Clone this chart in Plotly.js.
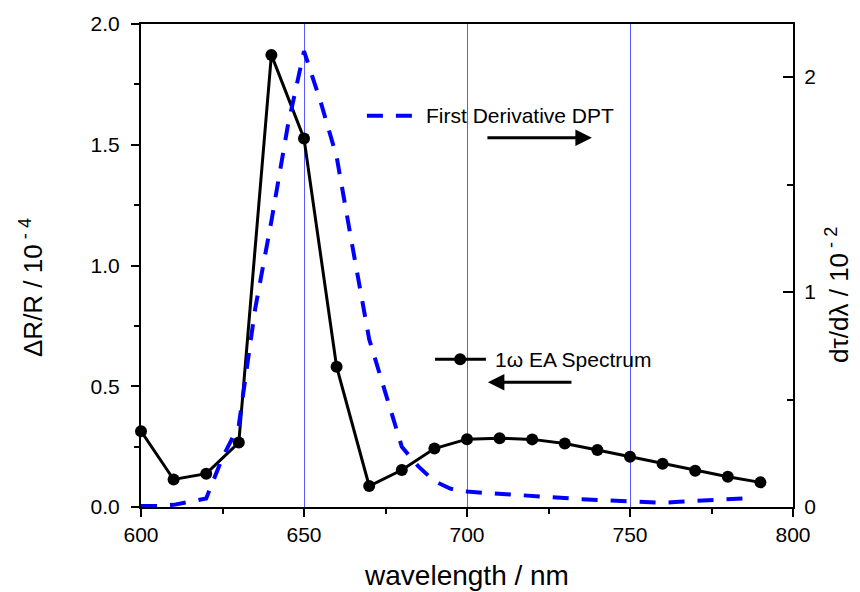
<!DOCTYPE html>
<html>
<head>
<meta charset="utf-8">
<script src="https://cdn.plot.ly/plotly-3.0.1.min.js"></script>
<style>html,body{margin:0;padding:0;background:#fff;}#chart{width:860px;height:592px;}</style>
</head>
<body>
<div id="chart"></div>
<script>
// 1ω EA spectrum (left axis, ΔR/R / 1e-4)
const wavelengthEA = [600,610,620,630,640,650,660,670,680,690,700,710,720,730,740,750,760,770,780,790];
const eaValues = [0.314,0.114,0.138,0.267,1.872,1.526,0.581,0.087,0.153,0.242,0.281,0.285,0.280,0.263,0.236,0.208,0.179,0.150,0.125,0.102];

// First derivative DPT (right axis, dτ/dλ / 1e-2)
const wavelengthDPT = [600,605,610,615,620,625,630,635,640,645,650,655,660,665,670,675,680,685,690,695,700,705,710,715,720,725,730,735,740,745,750,755,760,765,770,775,780,785];
const dptValues = [0.005,0.005,0.01,0.025,0.04,0.23,0.38,0.92,1.33,1.77,2.12,1.89,1.63,1.20,0.78,0.53,0.28,0.19,0.12,0.085,0.072,0.066,0.062,0.057,0.052,0.047,0.042,0.036,0.032,0.028,0.024,0.020,0.020,0.024,0.029,0.033,0.037,0.040];

const xTickVals = [600,650,700,750,800];
const yLeftTickVals = [0,0.5,1.0,1.5,2.0];
const yRightTickVals = [0,1,2];

const labelEA = '1\u03c9 EA Spectrum';
const labelDPT = 'First Derivative DPT';
const titleX = 'wavelength / nm';
const titleYLeft = '\u0394R/R / 10<sup> - 4</sup>';
const titleYRight = 'd\u03c4/d\u03bb / 10<sup> - 2</sup>';

const FONT = 'Arial, "Liberation Sans", sans-serif';

const traces = [
  {
    x: wavelengthDPT, y: dptValues, yaxis: 'y2', type: 'scatter', mode: 'lines',
    name: labelDPT, showlegend: false,
    line: {color: '#0000ff', width: 4, dash: '16px,13px'}
  },
  {
    x: wavelengthEA, y: eaValues, yaxis: 'y', type: 'scatter', mode: 'lines+markers',
    name: labelEA, showlegend: false, cliponaxis: false,
    line: {color: '#000000', width: 3},
    marker: {color: '#000000', size: 12, symbol: 'circle'}
  }
];

const layout = {
  width: 860, height: 592,
  margin: {l: 141, r: 67, t: 24, b: 85, pad: 0},
  paper_bgcolor: '#ffffff', plot_bgcolor: '#ffffff',
  font: {family: FONT, color: '#000000', size: 21},
  showlegend: false,
  xaxis: {
    range: [600, 800], tickvals: xTickVals, ticktext: xTickVals.map(String),
    showline: true, linecolor: '#000', linewidth: 2, mirror: true,
    ticks: 'outside', ticklen: 8, tickwidth: 2, tickcolor: '#000',
    minor: {dtick: 25, tick0: 600, ticks: 'outside', ticklen: 5, tickwidth: 2, tickcolor: '#000', showgrid: false},
    showgrid: true, gridcolor: 'rgba(60,60,255,0.85)', gridwidth: 1,
    zeroline: false,
    tickfont: {size: 21, family: FONT},
    title: {text: titleX, font: {size: 28, family: FONT}, standoff: 20}
  },
  yaxis: {
    range: [0, 2.0], tickvals: yLeftTickVals, ticktext: yLeftTickVals.map(v => v.toFixed(1)),
    showline: true, linecolor: '#000', linewidth: 2,
    ticks: 'outside', ticklen: 8, tickwidth: 2, tickcolor: '#000',
    minor: {dtick: 0.25, tick0: 0, ticks: 'outside', ticklen: 5, tickwidth: 2, tickcolor: '#000', showgrid: false},
    showgrid: false, zeroline: false,
    tickfont: {size: 21, family: FONT},
    ticklabelstandoff: 7
  },
  yaxis2: {
    overlaying: 'y', side: 'right',
    range: [0, 2.2465], tickvals: yRightTickVals, ticktext: yRightTickVals.map(String),
    showline: true, linecolor: '#000', linewidth: 2,
    ticks: 'inside', ticklen: 10, tickwidth: 2, tickcolor: '#000',
    minor: {dtick: 0.5, tick0: 0, ticks: 'inside', ticklen: 6, tickwidth: 2, tickcolor: '#000', showgrid: false},
    showgrid: false, zeroline: false,
    tickfont: {size: 21, family: FONT},
    ticklabelstandoff: 5
  },
  shapes: [
    // legend sample: dashed blue
    {type: 'line', xref: 'x', yref: 'y', x0: 669.3, x1: 683.6, y0: 1.62, y1: 1.62,
     line: {color: '#0000ff', width: 4, dash: '16px,13px'}},
    // legend sample: black line with marker
    {type: 'line', xref: 'x', yref: 'y', x0: 690.2, x1: 705.8, y0: 0.612, y1: 0.612,
     line: {color: '#000', width: 3}},
    {type: 'circle', xref: 'x', yref: 'y', xsizemode: 'pixel', ysizemode: 'pixel',
     xanchor: 697.9, yanchor: 0.612, x0: -6, x1: 6, y0: -6, y1: 6,
     fillcolor: '#000', line: {color: '#000', width: 0}}
  ],
  annotations: [
    // y axis titles (placed as annotations to match reference offsets)
    {xref: 'paper', yref: 'paper', x: -0.1687, y: 0.4534, text: titleYLeft, textangle: -90,
     showarrow: false, xanchor: 'center', yanchor: 'middle', font: {size: 26, family: FONT, color: '#000'}},
    {xref: 'paper', yref: 'paper', x: 1.069, y: 0.439, text: titleYRight, textangle: -90,
     showarrow: false, xanchor: 'center', yanchor: 'middle', font: {size: 26, family: FONT, color: '#000'}},
    {xref: 'x', yref: 'y', x: 686.8, y: 1.62, text: labelDPT, showarrow: false,
     xanchor: 'left', yanchor: 'middle', font: {size: 21, family: FONT, color: '#000'}},
    {xref: 'x', yref: 'y', x: 708.0, y: 0.612, text: labelEA, showarrow: false,
     xanchor: 'left', yanchor: 'middle', font: {size: 21, family: FONT, color: '#000'}},
    // arrow to right (DPT -> right axis)
    {xref: 'x', yref: 'y', axref: 'x', ayref: 'y', x: 738.3, y: 1.529, ax: 705.8, ay: 1.529,
     text: '', showarrow: true, arrowhead: 2, arrowsize: 1.1, arrowwidth: 3, arrowcolor: '#000', standoff: 0, startstandoff: 0},
    // arrow to left (EA -> left axis)
    {xref: 'x', yref: 'y', axref: 'x', ayref: 'y', x: 706.4, y: 0.517, ax: 732.5, ay: 0.517,
     text: '', showarrow: true, arrowhead: 2, arrowsize: 1.1, arrowwidth: 3, arrowcolor: '#000', standoff: 0, startstandoff: 0}
  ]
};

Plotly.newPlot('chart', traces, layout, {displayModeBar: false, staticPlot: true});
</script>
</body>
</html>
